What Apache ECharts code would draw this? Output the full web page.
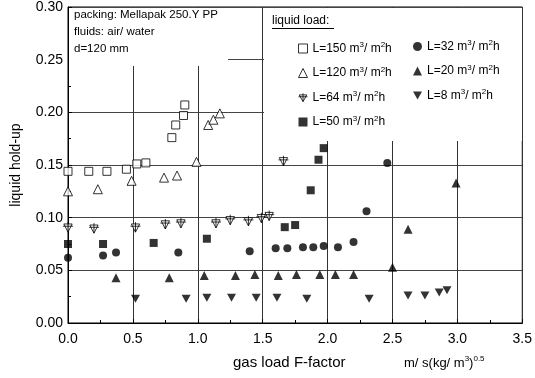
<!DOCTYPE html>
<html>
<head>
<meta charset="utf-8">
<script src="https://cdn.jsdelivr.net/npm/echarts@6/dist/echarts.min.js"></script>
<style>
  html, body { margin: 0; padding: 0; background: #fff; }
  #chart { width: 535px; height: 378px; }
</style>
</head>
<body>
<div id="chart"></div>
<script>
// liquid hold-up vs gas load F-factor, one array per liquid load
const l150 = [[0.0, 0.144], [0.16, 0.144], [0.30, 0.144], [0.45, 0.146], [0.53, 0.151], [0.60, 0.152],
  [0.80, 0.176], [0.83, 0.188], [0.89, 0.197], [0.90, 0.207]];
const l120 = [[0.0, 0.125], [0.23, 0.127], [0.49, 0.135], [0.74, 0.138], [0.84, 0.140], [0.99, 0.153],
  [1.08, 0.188], [1.12, 0.193], [1.17, 0.199]];
const l64 = [[0.0, 0.091], [0.20, 0.090], [0.52, 0.091], [0.75, 0.094], [0.87, 0.095], [1.14, 0.095],
  [1.25, 0.098], [1.39, 0.097], [1.49, 0.100], [1.55, 0.102], [1.66, 0.154]];
const l50 = [[0.0, 0.075], [0.27, 0.075], [0.66, 0.076], [1.07, 0.080], [1.67, 0.091], [1.75, 0.093],
  [1.87, 0.126], [1.93, 0.155], [1.97, 0.166]];
const l32 = [[0.0, 0.062], [0.27, 0.064], [0.37, 0.067], [0.85, 0.067], [1.40, 0.068], [1.60, 0.071],
  [1.69, 0.071], [1.81, 0.072], [1.89, 0.072], [1.97, 0.073], [2.08, 0.072], [2.20, 0.077],
  [2.30, 0.106], [2.46, 0.152]];
const l20 = [[0.37, 0.043], [0.78, 0.043], [1.05, 0.045], [1.29, 0.045], [1.44, 0.046], [1.62, 0.045],
  [1.76, 0.046], [1.94, 0.046], [2.06, 0.046], [2.20, 0.046], [2.50, 0.053], [2.62, 0.089],
  [2.99, 0.133]];
const l8 = [[0.52, 0.023], [0.91, 0.023], [1.07, 0.024], [1.26, 0.024], [1.45, 0.024], [1.61, 0.024],
  [1.84, 0.023], [2.32, 0.023], [2.62, 0.026], [2.75, 0.026], [2.86, 0.029], [2.92, 0.031]];

const loads = ['150', '120', '64', '50', '32', '20', '8'];
const infoLines = ['packing: Mellapak 250.Y PP', 'fluids: air/ water', 'd=120 mm'];

const FONT = '"Liberation Sans", Arial, sans-serif';
const triCross = 'path://M0,0 L10,0 L5,9 Z M5,-2 L5,9 M-1,2.5 L11,2.5';
const triDown = 'path://M0,0 L10,0 L5,9 Z';

const open = { color: '#fff', borderColor: '#000', borderWidth: 1 };
const filled = { color: '#000', borderWidth: 0 };

// symbol per load, used for both the points and the legend icons
const marks = [
  { symbol: 'rect', size: 8, style: open },
  { symbol: 'triangle', size: 9, style: open },
  { symbol: triCross, size: [10, 10], style: open },
  { symbol: 'rect', size: 8, style: filled },
  { symbol: 'circle', size: 8, style: filled },
  { symbol: 'triangle', size: 9, style: filled },
  { symbol: triDown, size: [9, 8], style: filled }
];
const seriesData = [l150, l120, l64, l50, l32, l20, l8];

const supRich = {
  sup: { fontSize: 8, verticalAlign: 'top', padding: [0, 0, 7, 0], fontFamily: FONT, color: '#000' },
  n: { fontSize: 12, fontFamily: FONT, color: '#000' }
};
const unitLabel = (name) => '{n|' + name + ' m}{sup|3}{n|/ m}{sup|2}{n|h}';
const legendItem = (i) => ({ name: 'L=' + loads[i], icon: marks[i].symbol, itemStyle: marks[i].style });

const chart = echarts.init(document.getElementById('chart'), null, { renderer: 'canvas' });

chart.setOption({
  animation: false,
  grid: { left: 68, right: 12, top: 7, bottom: 55, show: true, borderColor: '#000', borderWidth: 1 },
  xAxis: {
    type: 'value', min: 0, max: 3.5, interval: 0.5,
    axisLine: { lineStyle: { color: '#000' } },
    axisTick: { inside: true, length: 4, lineStyle: { color: '#000' } },
    minorTick: { show: true, splitNumber: 2, length: 3, lineStyle: { color: '#000' } },
    splitLine: { show: true, lineStyle: { color: '#333', width: 1 } },
    axisLabel: { formatter: (v) => v.toFixed(1), fontFamily: FONT, fontSize: 14, color: '#000', margin: 9 }
  },
  yAxis: {
    type: 'value', min: 0, max: 0.3, interval: 0.05,
    name: 'liquid hold-up', nameLocation: 'middle', nameRotate: 90, nameGap: 45,
    nameTextStyle: { fontFamily: FONT, fontSize: 14, color: '#000' },
    axisLine: { show: true, lineStyle: { color: '#000' } },
    axisTick: { inside: true, length: 4, lineStyle: { color: '#000' } },
    minorTick: { show: true, splitNumber: 2, length: 3, lineStyle: { color: '#000' } },
    splitLine: { show: true, lineStyle: { color: '#444', width: 1 } },
    axisLabel: { formatter: (v) => v.toFixed(2), fontFamily: FONT, fontSize: 14, color: '#000', margin: 5 }
  },
  legend: [
    {
      data: [0, 1, 2, 3].map(legendItem), orient: 'vertical', left: 293, top: 36, itemGap: 11,
      itemWidth: 9, itemHeight: 9, formatter: unitLabel,
      textStyle: { rich: supRich, fontFamily: FONT, fontSize: 12 }, selectedMode: false
    },
    {
      data: [4, 5, 6].map(legendItem), orient: 'vertical', left: 408, top: 34, itemGap: 11,
      itemWidth: 9, itemHeight: 9, formatter: unitLabel,
      textStyle: { rich: supRich, fontFamily: FONT, fontSize: 12 }, selectedMode: false
    }
  ],
  graphic: [
    { type: 'rect', z: 1, shape: { x: 69, y: 8, width: 159, height: 58 }, style: { fill: '#fff' } },
    { type: 'rect', z: 1, shape: { x: 264, y: 8, width: 258, height: 133 }, style: { fill: '#fff' } },
    {
      type: 'text', z: 5, left: 74, top: 6,
      style: { text: infoLines.join('\n'), lineHeight: 17, font: '11.5px ' + FONT, fill: '#000' }
    },
    {
      type: 'text', z: 5, left: 272, top: 15,
      style: { text: 'liquid load:', font: '12px ' + FONT, fill: '#000' }
    },
    { type: 'line', z: 5, shape: { x1: 272, y1: 28.5, x2: 334, y2: 28.5 }, style: { stroke: '#000', lineWidth: 1 } },
    {
      type: 'text', z: 5, left: 233, top: 355,
      style: { text: 'gas load F-factor', font: '15px ' + FONT, fill: '#000' }
    },
    {
      type: 'text', z: 5, left: 404, top: 355,
      style: {
        text: '{n|m/ s(kg/ m}{s|3}{n|)}{s|0.5}',
        rich: {
          n: { fontSize: 13, fontFamily: FONT, fill: '#000' },
          s: { fontSize: 8, fontFamily: FONT, fill: '#000', verticalAlign: 'top', padding: [0, 0, 8, 0] }
        }
      }
    }
  ],
  series: seriesData.map((data, i) => ({
    name: 'L=' + loads[i],
    type: 'scatter',
    data,
    symbol: marks[i].symbol,
    symbolSize: marks[i].size,
    itemStyle: marks[i].style,
    z: 3
  }))
});
</script>
</body>
</html>
